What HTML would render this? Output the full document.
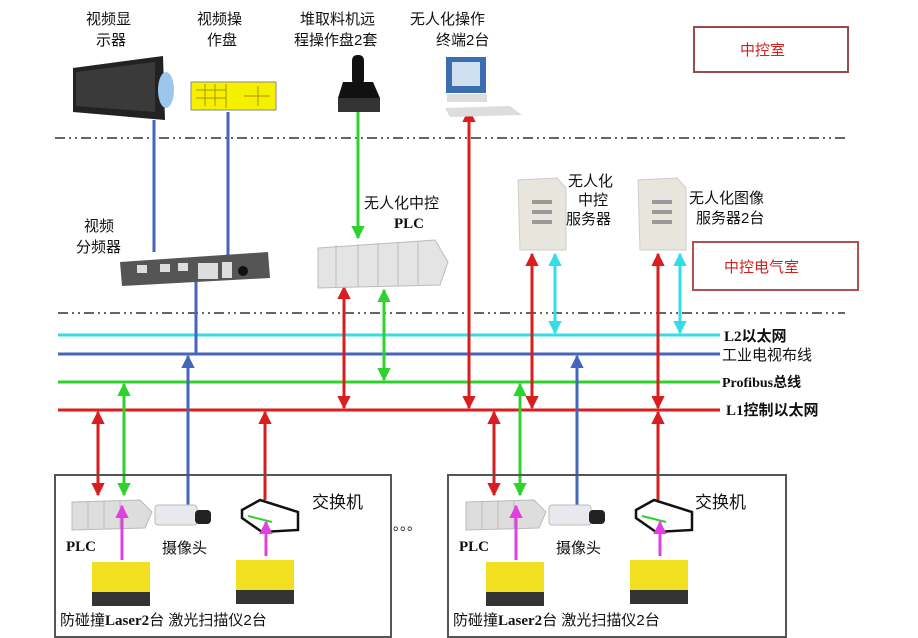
<!DOCTYPE html>
<html><head><meta charset="utf-8"><style>
body{margin:0;background:#fff}
svg{display:block}
text{font-family:"Liberation Sans","Noto Sans CJK SC",sans-serif;font-size:15px;fill:#111}
.b{font-weight:bold;font-family:"Liberation Serif","Noto Sans CJK SC",serif}
</style></head><body>
<svg width="918" height="638" viewBox="0 0 918 638" xmlns="http://www.w3.org/2000/svg">
<defs>
<marker id="r" viewBox="0 0 10 10" refX="9" refY="5" markerWidth="4.5" markerHeight="4.5" orient="auto-start-reverse"><path d="M0,0L10,5L0,10z" fill="#d81e1e"/></marker>
<marker id="g" viewBox="0 0 10 10" refX="9" refY="5" markerWidth="4.5" markerHeight="4.5" orient="auto-start-reverse"><path d="M0,0L10,5L0,10z" fill="#2fd12f"/></marker>
<marker id="c" viewBox="0 0 10 10" refX="9" refY="5" markerWidth="4.5" markerHeight="4.5" orient="auto-start-reverse"><path d="M0,0L10,5L0,10z" fill="#33dde8"/></marker>
<marker id="bl" viewBox="0 0 10 10" refX="9" refY="5" markerWidth="4.5" markerHeight="4.5" orient="auto-start-reverse"><path d="M0,0L10,5L0,10z" fill="#4466bb"/></marker>
<marker id="m" viewBox="0 0 10 10" refX="9" refY="5" markerWidth="4.5" markerHeight="4.5" orient="auto-start-reverse"><path d="M0,0L10,5L0,10z" fill="#e040e0"/></marker>
</defs>
<g stroke="#666" stroke-width="2" stroke-dasharray="10,4,2,4,2,4">
<line x1="55" y1="138" x2="845" y2="138"/>
<line x1="58" y1="313" x2="845" y2="313"/>
</g>
<rect x="694" y="27" width="154" height="45" fill="#fff" stroke="#9a4a4a" stroke-width="2"/>
<text x="740" y="55" style="fill:#d02020">中控室</text>
<rect x="693" y="242" width="165" height="48" fill="#fff" stroke="#b05050" stroke-width="2"/>
<text x="724" y="272" style="fill:#d02020">中控电气室</text>
<line x1="58" y1="335" x2="720" y2="335" stroke="#33dde8" stroke-width="3"/>
<line x1="58" y1="354" x2="720" y2="354" stroke="#4466bb" stroke-width="3"/>
<line x1="58" y1="382" x2="720" y2="382" stroke="#2fd12f" stroke-width="3"/>
<line x1="58" y1="410" x2="720" y2="410" stroke="#d81e1e" stroke-width="3"/>
<text x="724" y="341" class="b">L2以太网</text>
<text x="722" y="360">工业电视布线</text>
<text x="722" y="387" class="b" style="font-size:14px">Profibus总线</text>
<text x="726" y="415" class="b">L1控制以太网</text>
<g stroke-width="3" fill="none">
<line x1="154" y1="120" x2="154" y2="252" stroke="#4466bb"/>
<line x1="228" y1="112" x2="228" y2="258" stroke="#4466bb"/>
<line x1="196" y1="280" x2="196" y2="354" stroke="#4466bb"/>
<line x1="358" y1="112" x2="358" y2="238" stroke="#2fd12f" marker-end="url(#g)"/>
<line x1="469" y1="110" x2="469" y2="408" stroke="#d81e1e" marker-start="url(#r)" marker-end="url(#r)"/>
<line x1="344" y1="287" x2="344" y2="408" stroke="#d81e1e" marker-start="url(#r)" marker-end="url(#r)"/>
<line x1="384" y1="290" x2="384" y2="380" stroke="#2fd12f" marker-start="url(#g)" marker-end="url(#g)"/>
<line x1="532" y1="254" x2="532" y2="408" stroke="#d81e1e" marker-start="url(#r)" marker-end="url(#r)"/>
<line x1="555" y1="254" x2="555" y2="333" stroke="#33dde8" marker-start="url(#c)" marker-end="url(#c)"/>
<line x1="658" y1="254" x2="658" y2="408" stroke="#d81e1e" marker-start="url(#r)" marker-end="url(#r)"/>
<line x1="680" y1="254" x2="680" y2="333" stroke="#33dde8" marker-start="url(#c)" marker-end="url(#c)"/>
<line x1="98" y1="412" x2="98" y2="495" stroke="#d81e1e" marker-start="url(#r)" marker-end="url(#r)"/>
<line x1="124" y1="384" x2="124" y2="495" stroke="#2fd12f" marker-start="url(#g)" marker-end="url(#g)"/>
<line x1="188" y1="505" x2="188" y2="356" stroke="#4466bb" marker-end="url(#bl)"/>
<line x1="265" y1="500" x2="265" y2="412" stroke="#d81e1e" marker-end="url(#r)"/>
<line x1="494" y1="412" x2="494" y2="495" stroke="#d81e1e" marker-start="url(#r)" marker-end="url(#r)"/>
<line x1="520" y1="384" x2="520" y2="495" stroke="#2fd12f" marker-start="url(#g)" marker-end="url(#g)"/>
<line x1="577" y1="505" x2="577" y2="356" stroke="#4466bb" marker-end="url(#bl)"/>
<line x1="658" y1="500" x2="658" y2="412" stroke="#d81e1e" marker-end="url(#r)"/>
</g>
<rect x="55" y="475" width="336" height="162" fill="none" stroke="#555" stroke-width="2"/>
<rect x="448" y="475" width="338" height="162" fill="none" stroke="#555" stroke-width="2"/>
<text x="393" y="530" style="font-size:14px">。。。</text>
<text x="86" y="24">视频显</text><text x="96" y="45">示器</text>
<text x="197" y="24">视频操</text><text x="207" y="45">作盘</text>
<text x="300" y="24">堆取料机远</text><text x="294" y="45">程操作盘2套</text>
<text x="410" y="24">无人化操作</text><text x="436" y="45">终端2台</text>
<polygon points="73,68 163,56 165,120 73,112" fill="#222"/>
<polygon points="76,72 155,62 155,112 76,106" fill="#3a3a3a"/>
<ellipse cx="166" cy="90" rx="8" ry="18" fill="#9cc7ec"/>
<rect x="191" y="82" width="85" height="28" fill="#f5f000" stroke="#888"/>
<g stroke="#b09000" stroke-width="1"><line x1="196" y1="90" x2="226" y2="90"/><line x1="196" y1="98" x2="226" y2="98"/><line x1="205" y1="84" x2="205" y2="106"/><line x1="215" y1="84" x2="215" y2="106"/><line x1="226" y1="84" x2="226" y2="108"/><line x1="244" y1="96" x2="270" y2="96"/><line x1="258" y1="86" x2="258" y2="106"/></g>
<rect x="352" y="55" width="12" height="30" rx="5" fill="#111"/>
<polygon points="338,98 343,82 373,82 380,98" fill="#111"/>
<rect x="338" y="98" width="42" height="14" fill="#333"/>
<rect x="446" y="57" width="40" height="36" fill="#3a6eb0"/>
<rect x="452" y="62" width="28" height="24" fill="#cfe0f0"/>
<rect x="447" y="94" width="40" height="8" fill="#ddd"/>
<polygon points="445,108 510,106 522,115 450,117" fill="#ddd"/>
<text x="84" y="231">视频</text><text x="76" y="252">分频器</text>
<polygon points="120,262 268,252 270,278 122,286" fill="#555"/>
<rect x="137" y="265" width="10" height="8" fill="#ddd"/><rect x="160" y="264" width="10" height="8" fill="#ddd"/><rect x="178" y="263" width="10" height="8" fill="#ddd"/>
<rect x="198" y="263" width="20" height="16" fill="#ddd"/><rect x="222" y="262" width="10" height="16" fill="#ddd"/>
<circle cx="243" cy="271" r="5" fill="#111"/>
<text x="364" y="208">无人化中控</text><text x="394" y="228" class="b">PLC</text>
<polygon points="318,248 435,240 448,262 440,285 318,288" fill="#e4e4e4" stroke="#bbb"/>
<g stroke="#bbb"><line x1="336" y1="245" x2="336" y2="287"/><line x1="358" y1="244" x2="358" y2="287"/><line x1="378" y1="243" x2="378" y2="286"/><line x1="398" y1="242" x2="398" y2="286"/><line x1="418" y1="241" x2="418" y2="285"/></g>
<g><polygon points="518,180 557,178 566,188 566,250 520,250" fill="#e8e6dc" stroke="#ccc"/>
<rect x="532" y="200" width="20" height="4" fill="#999"/><rect x="532" y="210" width="20" height="4" fill="#999"/><rect x="532" y="220" width="20" height="4" fill="#999"/></g>
<g><polygon points="638,180 677,178 686,188 686,250 640,250" fill="#e8e6dc" stroke="#ccc"/>
<rect x="652" y="200" width="20" height="4" fill="#999"/><rect x="652" y="210" width="20" height="4" fill="#999"/><rect x="652" y="220" width="20" height="4" fill="#999"/></g>
<text x="568" y="186">无人化</text><text x="578" y="205">中控</text><text x="566" y="224">服务器</text>
<text x="689" y="203">无人化图像</text><text x="696" y="223">服务器2台</text>
<g id="dev">
<polygon points="72,502 140,500 152,512 145,528 72,530" fill="#ddd" stroke="#bbb"/>
<g stroke="#bbb"><line x1="88" y1="501" x2="88" y2="529"/><line x1="104" y1="501" x2="104" y2="529"/><line x1="120" y1="500" x2="120" y2="529"/></g>
<rect x="155" y="505" width="42" height="20" rx="3" fill="#e8e8ee" stroke="#bbb"/>
<rect x="195" y="510" width="16" height="14" rx="4" fill="#222"/>
<polygon points="242,510 260,500 298,512 298,530 262,532 242,518" fill="#fff" stroke="#111" stroke-width="2.5"/>
<line x1="248" y1="516" x2="272" y2="522" stroke="#3c3" stroke-width="2"/>
<rect x="92" y="562" width="58" height="44" fill="#f2e020"/><rect x="92" y="592" width="58" height="14" fill="#333"/>
<rect x="236" y="560" width="58" height="44" fill="#f2e020"/><rect x="236" y="590" width="58" height="14" fill="#333"/>
<g stroke-width="3">
<line x1="122" y1="560" x2="122" y2="506" stroke="#e040e0" marker-end="url(#m)"/>
<line x1="266" y1="556" x2="266" y2="522" stroke="#e040e0" marker-end="url(#m)"/>
</g>
</g>
<use href="#dev" x="394"/>
<text x="66" y="551" class="b">PLC</text><text x="162" y="553">摄像头</text>
<text x="312" y="508" style="font-size:17px">交换机</text>
<text x="60" y="625">防碰撞<tspan class="b">Laser2</tspan>台 激光扫描仪2台</text>
<text x="459" y="551" class="b">PLC</text><text x="556" y="553">摄像头</text>
<text x="695" y="508" style="font-size:17px">交换机</text>
<text x="453" y="625">防碰撞<tspan class="b">Laser2</tspan>台 激光扫描仪2台</text>
</svg>
</body></html>
